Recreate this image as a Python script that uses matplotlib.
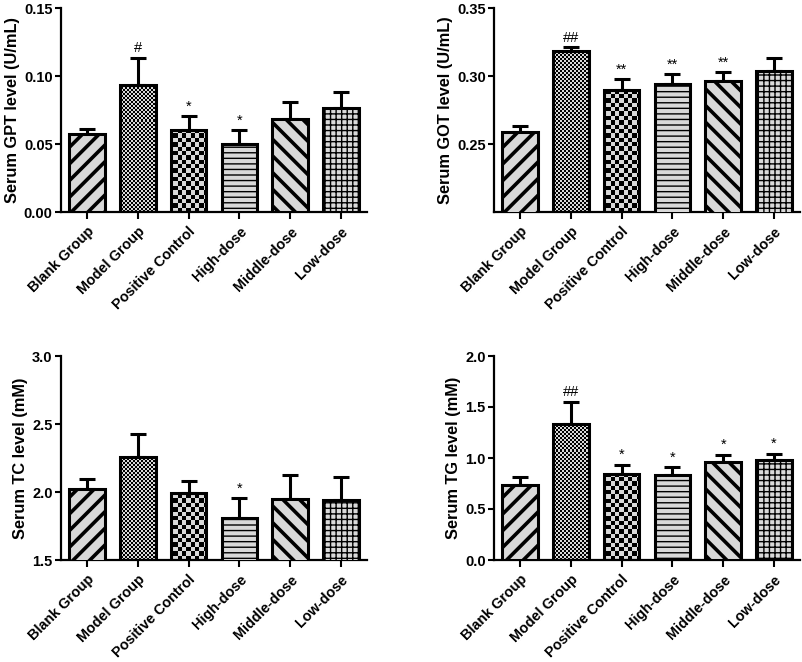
import numpy as np
import matplotlib
matplotlib.use("Agg")
import matplotlib.pyplot as plt
from matplotlib.colors import ListedColormap

plt.rcParams['font.family'] = ['Liberation Sans', 'DejaVu Sans']
plt.rcParams['font.weight'] = 'bold'

# --- Daten ---
groups = ["Blank Group", "Model Group", "Positive Control", "High-dose", "Middle-dose", "Low-dose"]

gpt_mean = [0.057, 0.0936, 0.060, 0.0502, 0.0684, 0.0765]
gpt_err = [0.004, 0.0196, 0.0103, 0.0098, 0.0125, 0.0117]
gpt_marks = ["", "#", "*", "*", "", ""]

got_mean = [0.2585, 0.3183, 0.2898, 0.2941, 0.2963, 0.3039]
got_err = [0.0049, 0.0027, 0.0078, 0.0071, 0.0064, 0.0090]
got_marks = ["", "##", "**", "**", "**", ""]

tc_mean = [2.025, 2.255, 1.993, 1.806, 1.951, 1.939]
tc_err = [0.073, 0.169, 0.085, 0.147, 0.172, 0.169]
tc_marks = ["", "", "", "*", "", ""]

tg_mean = [0.732, 1.337, 0.846, 0.837, 0.961, 0.984]
tg_err = [0.082, 0.215, 0.089, 0.072, 0.072, 0.058]
tg_marks = ["", "##", "*", "*", "*", "*"]

# Muster je Gruppe: Schraffur oder Schachbrett (Kantenlaenge in px)
patterns = ["//", ("checker", 2), ("checker", 4.3), "---", "\\\\", "+++"]
hatch_lw = [2.6, None, None, 1.0, 2.6, 1.0]
fill = "#d9d9d9"

W, H = 803, 662
fig = plt.figure(figsize=(W / 100, H / 100), dpi=100)

def make_panel(rect, means, errs, marks, ylim, yticks, fmt, ylabel):
    ax = fig.add_axes(rect)
    x = np.arange(len(groups))
    bars = ax.bar(x, means, width=0.7, color=fill, edgecolor="black", linewidth=2.2, zorder=3)
    ax.set_xlim(-0.51, 5.51)
    ax.set_ylim(*ylim)
    ax_w = rect[2] * W
    ax_h = rect[3] * H
    for b, p, lw in zip(bars, patterns, hatch_lw):
        if isinstance(p, tuple):
            # Schachbrett als Bild, auf den Balken beschnitten
            b.set_facecolor("none")
            size = p[1]
            nx = int(round(ax_w / size))
            ny = int(round(ax_h / size))
            arr = (np.add.outer(np.arange(ny), np.arange(nx)) % 2).astype(float)
            im = ax.imshow(arr, extent=(-0.51, 5.51, ylim[0], ylim[1]), origin="lower",
                           cmap=ListedColormap([fill, "black"]), interpolation="nearest",
                           aspect="auto", zorder=2)
            im.set_clip_path(b)
        else:
            b.set_hatch(p)
            b.set_hatch_linewidth(lw)
    ax.set_xlim(-0.51, 5.51)
    ax.set_ylim(*ylim)
    ax.errorbar(x, means, yerr=[np.zeros(len(x)), errs], fmt="none", ecolor="black",
                elinewidth=2.2, capsize=5.5, capthick=2.2, zorder=2.5)
    for xi, m, e, s in zip(x, means, errs, marks):
        if s:
            ax.annotate(s, (xi, m + e), xytext=(0, 2), textcoords="offset points",
                        ha="center", va="bottom", fontsize=10.5, fontweight="normal")
    for side in ["top", "right"]:
        ax.spines[side].set_visible(False)
    for side in ["left", "bottom"]:
        ax.spines[side].set_linewidth(1.6)
    ax.set_yticks(yticks)
    ax.set_yticklabels([fmt.format(v) for v in yticks], fontsize=10.5, fontweight="bold")
    ax.set_xticks(x)
    ax.set_xticklabels(groups, rotation=45, ha="right", rotation_mode="anchor",
                       fontsize=10.4, fontweight="bold")
    ax.tick_params(axis="y", direction="out", length=4, width=1.5, pad=2)
    ax.tick_params(axis="x", direction="out", length=5, width=1.5, pad=4)
    ax.set_ylabel(ylabel, fontsize=11.8, fontweight="bold", labelpad=3)
    return ax

def rect(px_left, px_top, px_right, px_bottom):
    return [px_left / W, 1 - px_bottom / H, (px_right - px_left) / W, (px_bottom - px_top) / H]

make_panel(rect(61, 8, 367, 212), gpt_mean, gpt_err, gpt_marks, (0, 0.15),
           [0.00, 0.05, 0.10, 0.15], "{:.2f}", "Serum GPT level (U/mL)")
make_panel(rect(494, 8, 800, 212), got_mean, got_err, got_marks, (0.20, 0.35),
           [0.25, 0.30, 0.35], "{:.2f}", "Serum GOT level (U/mL)")
make_panel(rect(61, 356, 367, 560), tc_mean, tc_err, tc_marks, (1.5, 3.0),
           [1.5, 2.0, 2.5, 3.0], "{:.1f}", "Serum TC level (mM)")
make_panel(rect(494, 356, 800, 560), tg_mean, tg_err, tg_marks, (0, 2.0),
           [0.0, 0.5, 1.0, 1.5, 2.0], "{:.1f}", "Serum TG level (mM)")

fig.savefig("out.png", dpi=100)
